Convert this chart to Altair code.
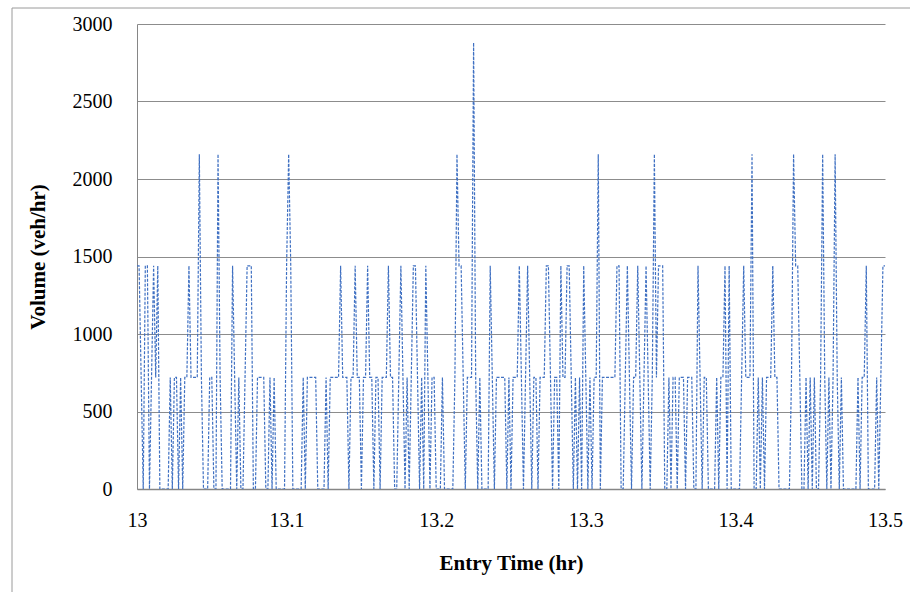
import altair as alt
import pandas as pd

# Volume (veh/hr) in 5-second bins from 13.0 hr
volume = [
    1440, 1440, 720, 0, 1440, 1440, 0, 720, 1440, 720, 1440, 0, 0, 0, 0, 0, 720, 0, 720, 720,
    0, 720, 0, 720, 720, 1440, 720, 720, 720, 720, 2160, 720, 0, 0, 0, 720, 720, 0, 0, 2160,
    720, 0, 0, 0, 0, 0, 1440, 720, 0, 720, 0, 0, 720, 1440, 1440, 1440, 0, 0, 720, 720,
    720, 720, 0, 0, 720, 0, 720, 0, 0, 0, 0, 0, 1440, 2160, 1440, 0, 0, 0, 0, 0,
    720, 0, 720, 720, 720, 720, 720, 0, 0, 0, 0, 720, 0, 720, 720, 720, 720, 720, 1440, 720,
    720, 720, 0, 720, 720, 1440, 720, 720, 0, 720, 720, 1440, 720, 720, 0, 720, 720, 0, 720, 720,
    720, 1440, 720, 720, 0, 0, 720, 1440, 720, 0, 720, 0, 720, 1440, 1440, 720, 0, 720, 0, 1440,
    720, 0, 720, 720, 0, 0, 0, 720, 0, 0, 0, 0, 0, 720, 2160, 1440, 1440, 720, 0, 720,
    720, 720, 2880, 720, 0, 720, 0, 0, 0, 0, 1440, 720, 0, 720, 720, 720, 720, 720, 0, 720,
    0, 720, 720, 720, 1440, 720, 0, 720, 1440, 720, 0, 720, 720, 0, 720, 720, 720, 1440, 1440, 720,
    0, 720, 720, 0, 1440, 720, 720, 1440, 1440, 720, 0, 720, 0, 720, 0, 1440, 720, 0, 720, 0,
    720, 720, 2160, 0, 720, 720, 720, 720, 720, 720, 720, 1440, 1440, 0, 0, 720, 1440, 720, 0, 720,
    720, 1440, 720, 0, 720, 1440, 720, 0, 720, 2160, 720, 1440, 1440, 1440, 0, 0, 720, 0, 720, 720,
    0, 720, 720, 720, 0, 720, 720, 720, 0, 0, 1440, 720, 0, 720, 720, 0, 0, 0, 0, 720,
    0, 720, 720, 1440, 0, 1440, 0, 0, 0, 0, 0, 720, 1440, 720, 720, 720, 2160, 0, 0, 720,
    0, 720, 0, 720, 720, 720, 1440, 720, 720, 0, 0, 0, 0, 0, 0, 720, 2160, 1440, 1440, 720,
    0, 0, 720, 0, 720, 0, 720, 0, 0, 720, 2160, 720, 0, 720, 0, 720, 2160, 720, 0, 720,
    0, 0, 0, 0, 0, 0, 0, 720, 0, 720, 720, 1440, 0, 0, 0, 0, 720, 0, 720, 1440,
    1440,
]
start_hr = 13.0
bin_hr = 5 / 3600
entry_time = [start_hr + i * bin_hr for i in range(len(volume))]

x_ticks = [13, 13.1, 13.2, 13.3, 13.4, 13.5]
y_ticks = [0, 500, 1000, 1500, 2000, 2500, 3000]

df = pd.DataFrame({"t": entry_time, "v": volume})

FONT = "Liberation Serif"

line = alt.Chart(df).mark_line(
    color="#3f70c2", strokeWidth=1.2, strokeDash=[3, 1.5], clip=True
).encode(
    x=alt.X(
        "t:Q",
        scale=alt.Scale(domain=[13, 13.5], nice=False, zero=False),
        axis=alt.Axis(
            values=x_ticks, format="~g", title="Entry Time (hr)", grid=False,
            ticks=False, labelPadding=21, labelFontSize=20, labelFont=FONT,
            labelColor="black", titleFont=FONT, titleFontSize=21,
            titleFontWeight="bold", titleColor="black", titleY=74,
            titleBaseline="middle", domainColor="#868686", domainWidth=1.5,
            labelFlush=False,
        ),
    ),
    y=alt.Y(
        "v:Q",
        scale=alt.Scale(domain=[0, 3000], nice=False),
        axis=alt.Axis(
            values=y_ticks, format="d", title="Volume (veh/hr)", grid=True,
            gridColor="#8c8c8c", gridWidth=1, ticks=False, labelPadding=25,
            labelFontSize=20, labelFont=FONT, labelColor="black",
            titleFont=FONT, titleFontSize=21, titleFontWeight="bold",
            titleColor="black", titleX=-99, titleY=232.5, titleAngle=-90,
            titleAlign="center", titleBaseline="middle",
            domainColor="#868686", labelFlush=False,
        ),
    ),
)

border = alt.Chart(pd.DataFrame({"a": [0]})).mark_rect(
    filled=False, stroke="#9a9a9a", strokeWidth=1
).encode(
    x=alt.value(-125), x2=alt.value(800), y=alt.value(-16), y2=alt.value(700)
)

chart = alt.layer(border, line).properties(
    width=748, height=465,
    autosize=alt.AutoSizeParams(type="none"),
    padding={"left": 137, "top": 24, "right": 25, "bottom": 103},
).configure_view(stroke=None)

chart.save("out.html", embed_options={"renderer": "svg", "actions": False})
